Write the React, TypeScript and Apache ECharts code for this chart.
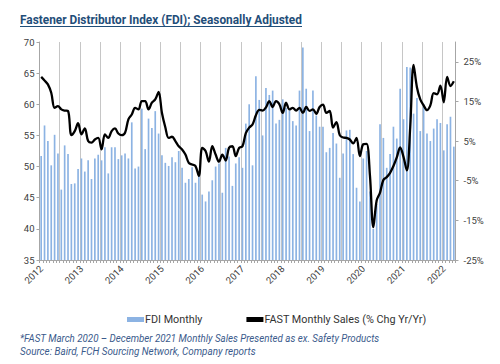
import React, { useEffect, useRef } from 'react';
import * as echarts from 'echarts';

// Year labels (x axis)
const years = ['2012', '2013', '2014', '2015', '2016', '2017', '2018', '2019', '2020', '2021', '2022'];

// FDI Monthly (left axis)
const fdi2012 = [51.7, 56.6, 54.1, 50.2, 55.1, 52.1, 46.3, 53.4, 52.0, 47.2, 47.3, 49.6];
const fdi2013 = [51.3, 49.2, 51.0, 48.0, 51.3, 51.9, 51.0, 53.1, 48.9, 53.1, 53.1, 51.2];
const fdi2014 = [51.8, 52.1, 51.3, 57.1, 49.7, 50.0, 59.3, 52.8, 57.7, 56.2, 58.9, 55.3];
const fdi2015 = [51.8, 50.6, 50.1, 51.5, 50.7, 52.5, 49.8, 47.4, 48.0, 49.9, 47.4, 48.6];
const fdi2016 = [45.5, 44.4, 46.0, 47.8, 50.0, 50.5, 45.8, 53.0, 51.6, 46.9, 50.5, 51.5];
const fdi2017 = [49.8, 56.9, 60.0, 50.2, 64.5, 60.7, 55.0, 62.6, 61.5, 62.2, 56.9, 57.5];
const fdi2018 = [60.8, 59.4, 59.0, 57.3, 56.6, 62.2, 69.1, 62.5, 55.7, 62.2, 58.2, 56.4];
const fdi2019 = [56.4, 52.3, 53.0, 55.4, 53.7, 48.2, 52.1, 55.8, 55.9, 52.0, 46.6, 44.4];
const fdi2020 = [51.3, 52.5, 46.0, 40.0, 44.0, 56.8, 54.6, 49.8, 52.0, 56.4, 54.5, 62.5];
const fdi2021 = [57.6, 66.0, 65.9, 58.5, 61.0, 55.7, 60.0, 55.3, 54.1, 56.1, 57.6, 57.0];
const fdi2022 = [52.6, 56.8, 58.0, 53.2];

// FAST Monthly Sales, % change Yr/Yr (right axis)
const fast2012 = [21.2, 20.3, 19.3, 17.2, 13.4, 13.8, 13.0, 12.7, 12.6, 6.5, 7.5, 9.5];
const fast2013 = [6.7, 8.2, 5.0, 4.6, 5.4, 5.8, 2.9, 6.7, 5.8, 7.5, 8.2, 6.9];
const fast2014 = [6.5, 7.1, 10.5, 11.7, 13.4, 13.0, 15.1, 15.1, 13.0, 14.7, 15.5, 17.4];
const fast2015 = [12.1, 8.5, 5.8, 6.1, 5.0, 3.7, 2.9, 1.6, -0.5, -0.9, -1.3, -3.8];
const fast2016 = [3.3, 2.5, -0.2, 3.7, 1.6, -0.2, 1.6, 0.1, 3.3, 3.7, 1.2, 3.3];
const fast2017 = [3.7, 7.0, 8.4, 9.2, 11.5, 12.9, 12.7, 13.5, 15.1, 13.6, 15.1, 14.3];
const fast2018 = [12.1, 14.7, 13.0, 13.4, 12.7, 13.4, 12.1, 13.6, 12.6, 13.0, 11.9, 13.6];
const fast2019 = [14.2, 12.1, 12.6, 8.4, 9.8, 6.5, 5.9, 5.8, 5.4, 4.4, 5.8, 1.2];
const fast2020 = [4.2, 4.3, -3.7, -16.7, -10.0, -8.0, -4.8, -4.1, -3.0, -1.3, 0.9, 3.4];
const fast2021 = [1.0, -2.4, 8.5, 24.2, 18.6, 15.5, 14.0, 12.8, 14.0, 17.1, 16.8, 19.0];
const fast2022 = [14.8, 21.2, 18.9, 20.1];

const rightTicks = [-25, -15, -5, 5, 15, 25];

const fdiByYear = [fdi2012, fdi2013, fdi2014, fdi2015, fdi2016, fdi2017, fdi2018, fdi2019, fdi2020, fdi2021, fdi2022];
const fastByYear = [fast2012, fast2013, fast2014, fast2015, fast2016, fast2017, fast2018, fast2019, fast2020, fast2021, fast2022];

const months: string[] = [];
fdiByYear.forEach((arr, yi) => {
  arr.forEach((_, mi) => months.push(years[yi] + '-' + String(mi + 1).padStart(2, '0')));
});
const fdi = fdiByYear.flat();
const fast = fastByYear.flat();

const TITLE = 'Fastener Distributor Index (FDI); Seasonally Adjusted';
const NOTE1 = '*FAST March 2020 \u2013 December 2021 Monthly Sales Presented as ex. Safety Products';
const NOTE2 = 'Source: Baird, FCH Sourcing Network, Company reports';

function fitScale(text: string, font: string, target: number): number {
  try {
    const ctx = document.createElement('canvas').getContext('2d');
    if (!ctx) return 1;
    ctx.font = font;
    const w = ctx.measureText(text).width;
    return w > 0 ? target / w : 1;
  } catch (e) {
    return 1;
  }
}

export default function App() {
  const ref = useRef<HTMLDivElement>(null);
  useEffect(() => {
    if (!ref.current) return;
    const chart = echarts.init(ref.current, null, { renderer: 'svg' });
    const FONT = 'Roboto';
    const titleScale = fitScale(TITLE, `bold 12px ${FONT}`, 282);
    const n1Scale = fitScale(NOTE1, `italic 10.5px ${FONT}`, 360);
    const n2Scale = fitScale(NOTE2, `italic 10.5px ${FONT}`, 236);
    const axisColor = '#a6a6a6';
    const labelColor = '#404040';
    const option: any = {
      animation: false,
      backgroundColor: '#ffffff',
      textStyle: { fontFamily: FONT },
      grid: { left: 39.5, right: 44.5, top: 42, bottom: 104, containLabel: false },
      xAxis: {
        type: 'category',
        data: months,
        boundaryGap: true,
        axisLine: { show: true, onZero: false, lineStyle: { color: axisColor, width: 1 } },
        axisTick: { show: true, interval: 0, length: 3, lineStyle: { color: axisColor } },
        axisLabel: {
          interval: (i: number) => i % 12 === 0,
          formatter: (v: string) => v.slice(0, 4),
          rotate: 45,
          fontSize: 9.5,
          color: labelColor,
          margin: 7,
        },
        splitLine: {
          show: true,
          interval: (i: number) => i > 0 && i % 6 === 0,
          lineStyle: { color: '#c6c6c6', width: 1 },
        },
      },
      yAxis: [
        {
          type: 'value',
          position: 'left',
          min: 35,
          max: 70,
          interval: 5,
          axisLine: { show: true, lineStyle: { color: axisColor } },
          axisTick: { show: true, length: 3, lineStyle: { color: axisColor } },
          axisLabel: { fontSize: 9.5, color: labelColor, margin: 5 },
          splitLine: { show: false },
        },
        {
          type: 'value',
          position: 'right',
          min: -25,
          max: 30,
          axisLine: { show: true, lineStyle: { color: axisColor } },
          axisTick: { show: true, length: 3, customValues: rightTicks, lineStyle: { color: axisColor } },
          axisLabel: {
            customValues: rightTicks,
            formatter: (v: number) => `${v}%`,
            fontSize: 9.5,
            color: labelColor,
            margin: 8,
          },
          splitLine: { show: false },
        },
      ],
      legend: {
        left: 122,
        top: 309,
        itemWidth: 17,
        itemHeight: 5,
        itemGap: 44,
        textStyle: { fontSize: 10.8, color: '#333333', fontFamily: FONT, padding: [0, 0, 0, -4] },
        data: [
          { name: 'FDI Monthly', icon: 'rect' },
          { name: 'FAST Monthly Sales (% Chg Yr/Yr)', icon: 'rect', itemStyle: { color: '#000000' } },
        ],
      },
      series: [
        {
          name: 'FDI Monthly',
          type: 'bar',
          yAxisIndex: 0,
          data: fdi,
          barWidth: '50%',
          itemStyle: { color: '#8cb3e3' },
        },
        {
          name: 'FAST Monthly Sales (% Chg Yr/Yr)',
          type: 'line',
          yAxisIndex: 1,
          data: fast,
          smooth: 0.35,
          symbol: 'none',
          itemStyle: { color: '#000000' },
          lineStyle: { color: '#000000', width: 2.3 },
          z: 5,
        },
      ],
      graphic: [
        {
          type: 'text',
          x: 20,
          y: 20,
          scaleX: titleScale,
          style: {
            text: TITLE,
            x: 0,
            y: 0,
            fill: '#1f4e79',
            fontFamily: FONT,
            fontWeight: 'bold',
            fontSize: 12,
            align: 'left',
            verticalAlign: 'middle',
          },
        },
        {
          type: 'line',
          shape: { x1: 20, y1: 26.5, x2: 302, y2: 26.5 },
          style: { stroke: '#1f4e79', lineWidth: 1 },
        },
        {
          type: 'text',
          x: 20,
          y: 338,
          scaleX: n1Scale,
          style: {
            text: NOTE1,
            x: 0,
            y: 0,
            fill: '#3b5b8c',
            fontFamily: FONT,
            fontStyle: 'italic',
            fontSize: 10.5,
            align: 'left',
            verticalAlign: 'middle',
          },
        },
        {
          type: 'text',
          x: 20,
          y: 351,
          scaleX: n2Scale,
          style: {
            text: NOTE2,
            x: 0,
            y: 0,
            fill: '#3b5b8c',
            fontFamily: FONT,
            fontStyle: 'italic',
            fontSize: 10.5,
            align: 'left',
            verticalAlign: 'middle',
          },
        },
      ],
    };
    chart.setOption(option);
    return () => chart.dispose();
  }, []);
  return (
    <div
      ref={ref}
      style={{ position: 'absolute', left: 0, top: 0, width: 500, height: 364, background: '#fff' }}
    />
  );
}
